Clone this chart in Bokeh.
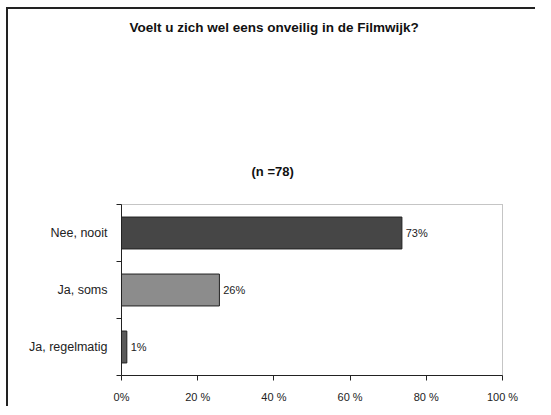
from bokeh.plotting import figure
from bokeh.layouts import row, column
from bokeh.models import Range1d, FixedTicker, Title, ColumnDataSource, Spacer
from bokeh.core.properties import value
from bokeh.embed import file_html
from bokeh.resources import INLINE

categories = ["Ja, regelmatig", "Ja, soms", "Nee, nooit"]
values = [1.4, 25.7, 73.6]
value_labels = ["1%", "26%", "73%"]
bar_colors = ["#5a5a5a", "#8c8c8c", "#464646"]
x_ticks = [0, 20, 40, 60, 80, 100]
x_tick_labels = ["0%", "20 %", "40 %", "60 %", "80 %", "100 %"]
title_text = "Voelt u zich wel eens onveilig in de Filmwijk?"
subtitle_text = "(n =78)"

ypos = [i + 0.5 for i in range(len(categories))]

p = figure(width=529, height=399, output_backend="svg", toolbar_location=None,
           x_range=Range1d(0, 100), y_range=Range1d(0, 3),
           min_border_left=113, min_border_right=35, min_border_top=20,
           min_border_bottom=33)
p.styles = {"border-left": "2px solid #222", "border-top": "2px solid #222"}
p.background_fill_color = "white"
p.border_fill_color = "white"
p.outline_line_color = "#8a8a8a"
p.outline_line_dash = "1 1"
p.grid.visible = False

src = ColumnDataSource(dict(y=ypos, v=values, c=bar_colors, lab=value_labels,
                            lx=[v + 1.0 for v in values]))
p.hbar(y="y", right="v", left=0, height=0.56, fill_color="c", line_color="#222",
       line_width=1, source=src)
p.text(x="lx", y="y", text="lab", source=src, text_baseline="middle",
       text_align="left", text_font_size="11px", text_color="#222",
       text_font=value("Liberation Sans"))

xa = p.xaxis[0]
xa.ticker = FixedTicker(ticks=x_ticks)
xa.major_label_overrides = {t: l for t, l in zip(x_ticks, x_tick_labels)}
xa.major_tick_out = 5
xa.major_tick_in = 0
xa.minor_tick_out = 0
xa.minor_tick_in = 0
xa.axis_line_color = "#222"
xa.major_tick_line_color = "#222"
xa.major_label_text_font = "Liberation Sans"
xa.major_label_text_font_size = "11px"
xa.major_label_text_color = "#222"
xa.major_label_standoff = 10

ya = p.yaxis[0]
ya.ticker = FixedTicker(ticks=ypos, minor_ticks=[0, 1, 2, 3])
ya.major_label_overrides = {y: c for y, c in zip(ypos, categories)}
ya.major_tick_out = 0
ya.major_tick_in = 0
ya.minor_tick_out = 5
ya.minor_tick_in = 0
ya.minor_tick_line_color = "#222"
ya.axis_line_color = "#222"
ya.major_label_text_font = "Liberation Sans"
ya.major_label_text_font_size = "12.5px"
ya.major_label_text_color = "#222"
ya.major_label_standoff = 9

sub = Title(text=subtitle_text, align="left", offset=130, standoff=51,
            text_font="Liberation Sans", text_font_style="bold",
            text_font_size="13px", text_color="#111")
spacer = Title(text=" ", align="left", standoff=77,
               text_font="Liberation Sans", text_font_size="12px")
main = Title(text=title_text, align="left", offset=8, standoff=17,
             text_font="Liberation Sans", text_font_style="bold",
             text_font_size="13.5px", text_color="#111")
p.add_layout(sub, "above")
p.add_layout(spacer, "above")
p.add_layout(main, "above")

layout = column(Spacer(width=535, height=7), row(Spacer(width=6, height=399), p))
open("out.html", "w").write(file_html(layout, INLINE))
